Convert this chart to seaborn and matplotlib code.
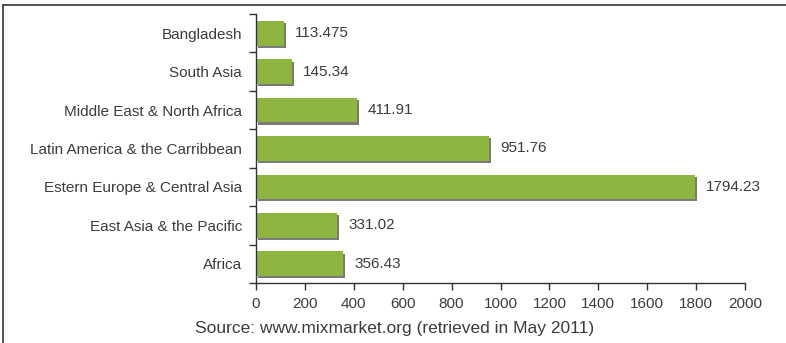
import matplotlib
matplotlib.use("Agg")
import matplotlib.pyplot as plt
import matplotlib.patheffects as pe
from matplotlib.lines import Line2D
import seaborn as sns
import pandas as pd

regions = [
    "Bangladesh",
    "South Asia",
    "Middle East & North Africa",
    "Latin America & the Carribbean",
    "Estern Europe & Central Asia",
    "East Asia & the Pacific",
    "Africa",
]
values = [113.475, 145.34, 411.91, 951.76, 1794.23, 331.02, 356.43]
value_labels = ["113.475", "145.34", "411.91", "951.76", "1794.23", "331.02", "356.43"]
x_ticks = [0, 200, 400, 600, 800, 1000, 1200, 1400, 1600, 1800, 2000]

df = pd.DataFrame({"region": regions, "value": values})

sns.set_theme(style="white")
plt.rcParams["font.family"] = ["Liberation Sans", "DejaVu Sans"]

W, H = 786, 343
fig = plt.figure(figsize=(W / 100, H / 100), dpi=100)
ax = fig.add_axes([256 / W, 1 - 283 / H, (745 - 256) / W, (283 - 14) / H])

text_color = "#3c3c3c"
bar_color = "#8db53f"
sns.barplot(data=df, x="value", y="region", orient="h", color=bar_color,
            saturation=1, width=0.64, ax=ax)

for patch in ax.patches:
    patch.set_edgecolor("none")
    patch.set_path_effects([
        pe.SimplePatchShadow(offset=(1.6, -1.6), shadow_rgbFace="#7a7a7a", alpha=1.0),
        pe.Normal(),
    ])

for i, (v, lab) in enumerate(zip(values, value_labels)):
    ax.annotate(lab, xy=(v, i), xytext=(8, 0), textcoords="offset points",
                ha="left", va="center", fontsize=11, color=text_color)

ax.set_xlim(0, 2000)
ax.set_ylim(len(regions) - 0.5, -0.5)
ax.set_xticks(x_ticks)
ax.set_xticklabels([str(t) for t in x_ticks], fontsize=11, color=text_color)
ax.set_yticks(range(len(regions)))
ax.set_yticklabels(regions, fontsize=11, color=text_color)
ax.tick_params(axis="y", which="major", length=0, pad=10)
ax.set_yticks([i - 0.5 for i in range(len(regions) + 1)], minor=True)
ax.tick_params(axis="y", which="minor", direction="out", length=5, width=1, color="#333333", left=True)
ax.tick_params(axis="x", which="major", direction="out", length=5, width=1, color="#333333", bottom=True, pad=5)
ax.set_xlabel("")
ax.set_ylabel("")

for side in ["top", "right"]:
    ax.spines[side].set_visible(False)
for side in ["left", "bottom"]:
    ax.spines[side].set_color("#333333")
    ax.spines[side].set_linewidth(1)

fig.text(395 / W, 1 - 328 / H, "Source: www.mixmarket.org (retrieved in May 2011)",
         ha="center", va="center", fontsize=12.5, color=text_color)

# frame around the figure (top and left edges)
fig.add_artist(Line2D([3 / W, 3 / W], [0, 1 - 5 / H], transform=fig.transFigure,
                      color="#333333", lw=1.2))
fig.add_artist(Line2D([3 / W, 1], [1 - 5 / H, 1 - 5 / H], transform=fig.transFigure,
                      color="#333333", lw=1.2))

fig.savefig("out.png", dpi=100)
